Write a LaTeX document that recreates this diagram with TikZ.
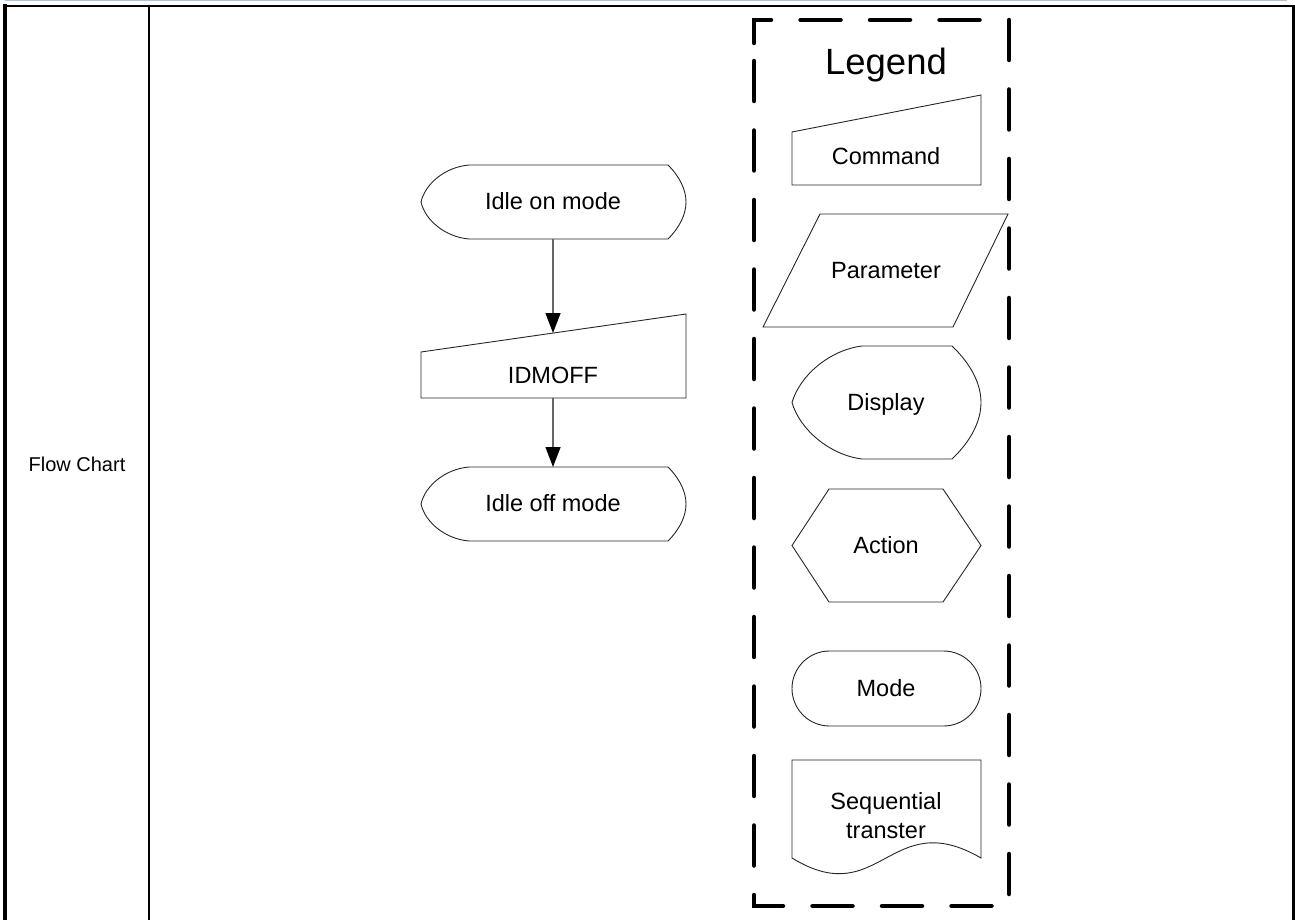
\documentclass[tikz,border=0pt]{standalone}
\usepackage{fontspec}
\setmainfont{Liberation Sans}
\usetikzlibrary{arrows.meta}
\definecolor{toprule}{RGB}{170,195,220}
\begin{document}
\begin{tikzpicture}[x=1pt,y=-1pt,
  shp/.style={draw=black!85,line width=0.9pt},
  arr/.style={draw=black!60,line width=1.4pt,-{Triangle[length=20pt,width=15pt,color=black]}},
  lbl/.style={anchor=base,inner sep=0pt,font=\fontsize{23.5}{28}\selectfont},
  frame/.style={line width=4.5pt,line cap=round,dash pattern=on 40pt off 29.5pt}]
\useasboundingbox (0,0) rectangle (1295,920);
% table
\draw[toprule,line width=1.5pt] (5,0.7) -- (1287,0.7);
\draw[line width=2pt] (3,6) -- (1295,6);
\draw[line width=4pt] (5.3,4) -- (5.3,920);
\draw[line width=2.5pt] (149,5) -- (149,920);
\draw[line width=3pt] (1293.5,5) -- (1293.5,920);
\node[anchor=base,inner sep=0pt,font=\fontsize{20}{24}\selectfont] (fc) at (77,471) {Flow Chart};
% flow chart shapes
\draw[shp] (469,165) -- (668,165) .. controls (680,177) and (686,190) .. (686,202)
  .. controls (686,214) and (680,227) .. (668,239) -- (469,239)
  .. controls (445,237) and (425,220) .. (421,202)
  .. controls (425,184) and (445,167) .. (469,165) -- cycle;
\draw[shp] (421,352) -- (686,314) -- (686,398) -- (421,398) -- cycle;
\draw[shp] (469,467) -- (668,467) .. controls (680,479) and (686,492) .. (686,504)
  .. controls (686,516) and (680,529) .. (668,541) -- (469,541)
  .. controls (445,539) and (425,522) .. (421,504)
  .. controls (425,486) and (445,469) .. (469,467) -- cycle;
\node[lbl] (idleon) at (553,210) {Idle on mode};
\node[lbl] (idmoff) at (553,383) {IDMOFF};
\node[lbl] (idleoff) at (553,511) {Idle off mode};
\coordinate (idleon-s) at (553,239);
\coordinate (idmoff-n) at (553,333);
\coordinate (idmoff-s) at (553,398);
\coordinate (idleoff-n) at (553,467);
\draw[arr] (idleon-s) -- (idmoff-n);
\draw[arr] (idmoff-s) -- (idleoff-n);
% legend
\draw[frame] (754,43) -- (754,20) -- (1009,20) -- (1009,906) -- (754,906) -- cycle;
\node[anchor=base,inner sep=0pt,font=\fontsize{36.5}{40}\selectfont] (legend) at (886,75) {Legend};
\draw[shp] (792,132) -- (981,95) -- (981,185) -- (792,185) -- cycle;
\node[lbl] (command) at (886,165) {Command};
\draw[shp] (820,214) -- (1008,214) -- (953,327) -- (763,327) -- cycle;
\node[lbl] (parameter) at (886,278) {Parameter};
\draw[shp] (862,346) -- (952,346) .. controls (972,365) and (981,385) .. (981,402.5)
  .. controls (981,420) and (972,440) .. (952,459) -- (862,459)
  .. controls (830,455) and (800,430) .. (792,402.5)
  .. controls (800,375) and (830,350) .. (862,346) -- cycle;
\node[lbl] (display) at (886,410) {Display};
\draw[shp] (829,489) -- (943,489) -- (981,545.5) -- (943,602) -- (829,602) -- (792,545.5) -- cycle;
\node[lbl] (action) at (886,553) {Action};
\draw[shp,rounded corners=37.5pt] (792,651) rectangle (981,726);
\node[lbl] (mode) at (886,696) {Mode};
\draw[shp] (792,760) -- (981,760) -- (981,858) .. controls (890,805) and (880,912) .. (792,858) -- cycle;
\node[inner sep=0pt,align=center,font=\fontsize{23.5}{29}\selectfont] (seq) at (886,816) {Sequential\\transter};
\end{tikzpicture}
\end{document}
